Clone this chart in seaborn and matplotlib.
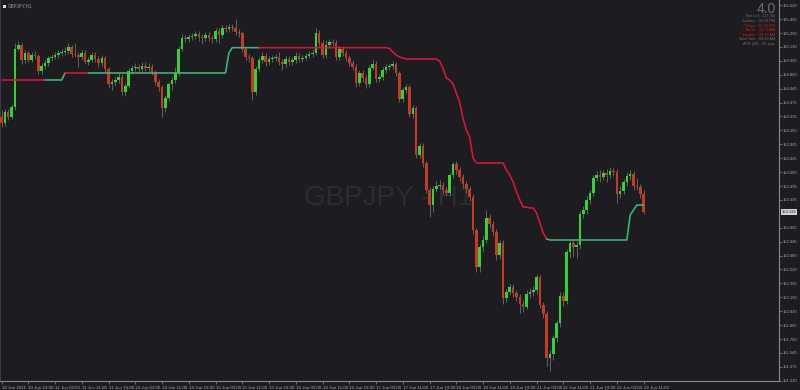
import matplotlib
matplotlib.use("Agg")
import matplotlib.pyplot as plt
from matplotlib.patches import Rectangle
import numpy as np
import pandas as pd
import seaborn as sns

# ---------------- data (GBPJPY H1) ----------------
first_open = 154.307

closes = [
    154.236, 154.365, 154.307, 154.424, 155.104, 155.151, 154.975, 155.057, 154.975, 155.034,
    155.022, 154.846, 154.905, 154.940, 154.999, 155.010, 155.034, 155.057, 155.069, 155.081,
    155.128, 155.046, 155.034, 155.010, 155.057, 154.952, 154.975, 155.034, 154.987, 154.940,
    154.999, 154.870, 154.694, 154.717, 154.741, 154.776, 154.600, 154.670, 154.846, 154.881,
    154.893, 154.870, 154.905, 154.881, 154.893, 154.834, 154.717, 154.659, 154.412, 154.530,
    154.694, 154.741, 154.823, 155.104, 155.233, 155.222, 155.245, 155.257, 155.280, 155.245,
    155.233, 155.268, 155.233, 155.222, 155.315, 155.268, 155.351, 155.339, 155.362, 155.351,
    155.304, 155.292, 155.104, 155.010, 154.999, 154.600, 154.870, 154.975, 155.022, 154.952,
    154.987, 154.999, 155.010, 154.952, 154.928, 154.987, 154.952, 154.975, 155.022, 154.987,
    154.999, 155.022, 155.046, 155.057, 155.292, 155.175, 155.034, 155.151, 155.186, 155.175,
    155.010, 155.104, 155.057, 154.999, 154.940, 154.893, 154.705, 154.823, 154.764, 154.694,
    154.881, 154.928, 154.752, 154.776, 154.858, 154.893, 154.905, 154.928, 154.823, 154.518,
    154.623, 154.659, 154.342, 154.412, 153.861, 153.966, 153.767, 153.450, 153.274, 153.462,
    153.497, 153.509, 153.450, 153.415, 153.626, 153.755, 153.685, 153.603, 153.521, 153.462,
    153.368, 152.981, 152.547, 152.782, 152.864, 153.122, 153.051, 152.958, 152.688, 152.829,
    152.183, 152.254, 152.312, 152.242, 152.195, 152.113, 152.078, 152.230, 152.254, 152.277,
    152.430, 152.101, 151.996, 151.480, 151.527, 151.714, 151.890, 152.207, 152.148, 152.723,
    152.829, 152.782, 152.805, 153.169, 153.216, 153.333, 153.415, 153.591, 153.626, 153.603,
    153.650, 153.626, 153.673, 153.661, 153.403, 153.439, 153.544, 153.615, 153.638, 153.497,
    153.486, 153.403, 153.192,
]

highs = [
    154.39, 154.40, 154.40, 154.46, 155.17, 155.20, 155.17, 155.09, 155.08, 155.07,
    155.08, 155.05, 154.94, 154.98, 155.02, 155.05, 155.07, 155.09, 155.10, 155.13,
    155.17, 155.15, 155.17, 155.07, 155.09, 155.09, 155.01, 155.07, 155.07, 155.02,
    155.03, 155.02, 154.89, 154.75, 154.78, 154.82, 154.81, 154.70, 154.88, 154.92,
    154.94, 154.93, 154.95, 154.95, 154.94, 154.93, 154.86, 154.75, 154.68, 154.56,
    154.72, 154.78, 154.89, 155.14, 155.28, 155.27, 155.28, 155.29, 155.31, 155.31,
    155.28, 155.30, 155.30, 155.27, 155.35, 155.35, 155.39, 155.39, 155.40, 155.40,
    155.46, 155.34, 155.32, 155.13, 155.05, 155.02, 154.90, 155.01, 155.07, 155.06,
    155.02, 155.03, 155.05, 155.07, 154.99, 155.02, 155.02, 155.01, 155.07, 155.06,
    155.03, 155.06, 155.08, 155.10, 155.35, 155.33, 155.21, 155.21, 155.22, 155.22,
    155.21, 155.14, 155.14, 155.09, 155.03, 154.97, 154.93, 154.86, 154.86, 154.80,
    154.92, 154.97, 154.96, 154.81, 154.89, 154.93, 154.94, 154.96, 154.95, 154.85,
    154.66, 154.69, 154.68, 154.45, 154.44, 154.00, 154.00, 153.79, 153.49, 153.50,
    153.56, 153.57, 153.54, 153.49, 153.65, 153.78, 153.79, 153.72, 153.64, 153.56,
    153.50, 153.40, 153.00, 152.82, 152.91, 153.22, 153.17, 153.09, 152.99, 152.86,
    152.86, 152.29, 152.35, 152.35, 152.28, 152.23, 152.16, 152.28, 152.30, 152.32,
    152.46, 152.45, 152.14, 152.03, 151.57, 151.75, 151.92, 152.25, 152.25, 152.76,
    152.86, 152.88, 152.85, 153.20, 153.26, 153.38, 153.45, 153.63, 153.67, 153.68,
    153.68, 153.70, 153.72, 153.71, 153.70, 153.50, 153.58, 153.66, 153.68, 153.67,
    153.59, 153.52, 153.45,
]

lows = [
    154.19, 154.20, 154.27, 154.28, 154.39, 155.08, 154.93, 154.94, 154.95, 154.95,
    154.99, 154.81, 154.81, 154.87, 154.90, 154.96, 154.99, 155.00, 155.02, 155.03,
    155.05, 155.01, 155.01, 154.89, 154.98, 154.93, 154.92, 154.95, 154.95, 154.89,
    154.90, 154.83, 154.65, 154.62, 154.67, 154.71, 154.56, 154.55, 154.65, 154.81,
    154.85, 154.83, 154.83, 154.85, 154.85, 154.80, 154.68, 154.61, 154.31, 154.37,
    154.49, 154.62, 154.70, 154.79, 155.08, 155.19, 155.19, 155.21, 155.22, 155.20,
    155.16, 155.20, 155.20, 155.17, 155.19, 155.17, 155.23, 155.30, 155.30, 155.32,
    155.27, 155.25, 155.07, 154.98, 154.95, 154.51, 154.56, 154.83, 154.94, 154.90,
    154.92, 154.95, 154.96, 154.92, 154.86, 154.89, 154.92, 154.92, 154.94, 154.95,
    154.95, 154.98, 155.00, 155.01, 155.03, 155.14, 155.00, 155.00, 155.12, 155.14,
    154.98, 154.98, 155.02, 154.96, 154.90, 154.86, 154.66, 154.67, 154.72, 154.65,
    154.66, 154.86, 154.72, 154.72, 154.74, 154.82, 154.86, 154.87, 154.79, 154.48,
    154.48, 154.59, 154.31, 154.29, 153.83, 153.83, 153.72, 153.42, 153.13, 153.19,
    153.43, 153.46, 153.40, 153.38, 153.38, 153.59, 153.64, 153.56, 153.47, 153.42,
    153.32, 152.93, 152.49, 152.49, 152.72, 152.83, 153.00, 152.91, 152.63, 152.64,
    152.11, 152.14, 152.22, 152.20, 152.15, 152.01, 152.02, 152.05, 152.18, 152.21,
    152.23, 152.07, 151.95, 151.39, 151.33, 151.46, 151.67, 151.84, 152.09, 152.11,
    152.65, 152.66, 152.65, 152.76, 153.12, 153.17, 153.29, 153.38, 153.56, 153.54,
    153.57, 153.54, 153.59, 153.61, 153.30, 153.36, 153.40, 153.50, 153.57, 153.45,
    153.45, 153.36, 153.17,
]

stop_line = [
    154.741, 154.741, 154.741, 154.741, 154.741, 154.741, 154.741, 154.741, 154.741, 154.741,
    154.741, 154.741, 154.741, 154.741, 154.741, 154.741, 154.741, 154.741, 154.741, 154.823,
    154.823, 154.823, 154.823, 154.823, 154.823, 154.823, 154.823, 154.823, 154.823, 154.823,
    154.823, 154.823, 154.823, 154.823, 154.823, 154.823, 154.823, 154.823, 154.823, 154.823,
    154.823, 154.823, 154.823, 154.823, 154.823, 154.823, 154.823, 154.823, 154.823, 154.823,
    154.823, 154.823, 154.823, 154.823, 154.823, 154.823, 154.823, 154.823, 154.823, 154.823,
    154.823, 154.823, 154.823, 154.823, 154.823, 154.823, 154.823, 154.823, 155.057, 155.120,
    155.120, 155.120, 155.120, 155.120, 155.120, 155.120, 155.120, 155.120, 155.120, 155.120,
    155.120, 155.120, 155.120, 155.120, 155.120, 155.120, 155.120, 155.120, 155.120, 155.120,
    155.120, 155.120, 155.120, 155.120, 155.120, 155.120, 155.120, 155.120, 155.120, 155.120,
    155.120, 155.120, 155.120, 155.120, 155.120, 155.120, 155.120, 155.120, 155.120, 155.120,
    155.120, 155.120, 155.120, 155.120, 155.120, 155.120, 155.110, 155.069, 155.034, 155.010,
    154.999, 154.987, 154.987, 154.987, 154.987, 154.987, 154.987, 154.987, 154.987, 154.987,
    154.987, 154.963, 154.881, 154.764, 154.741, 154.694, 154.588, 154.482, 154.295, 154.154,
    154.072, 153.826, 153.767, 153.767, 153.767, 153.767, 153.767, 153.767, 153.767, 153.767,
    153.767, 153.685, 153.626, 153.544, 153.427, 153.333, 153.251, 153.251, 153.239, 153.239,
    153.181, 153.063, 152.946, 152.876, 152.864, 152.864, 152.864, 152.864, 152.864, 152.864,
    152.864, 152.864, 152.864, 152.864, 152.864, 152.864, 152.864, 152.864, 152.864, 152.864,
    152.864, 152.864, 152.864, 152.864, 152.864, 152.864, 152.864, 152.864, 153.157, 153.216,
    153.274, 153.274, 153.274,
]

# trend state of the stop line: (direction, number of bars)
trend_runs = [("down", 14), ("up", 6), ("down", 7), ("up", 51), ("down", 86), ("up", 29)]

x_tick_labels = [
    "10 Jun 2021", "10 Jun 19:00", "11 Jun 03:00", "11 Jun 11:00", "11 Jun 19:00",
    "14 Jun 03:00", "14 Jun 11:00", "14 Jun 19:00", "15 Jun 03:00", "15 Jun 11:00",
    "15 Jun 19:00", "16 Jun 03:00", "16 Jun 11:00", "16 Jun 19:00", "17 Jun 03:00",
    "17 Jun 11:00", "17 Jun 19:00", "18 Jun 03:00", "18 Jun 11:00", "18 Jun 19:00",
    "21 Jun 03:00", "21 Jun 11:00", "21 Jun 19:00", "22 Jun 03:00", "22 Jun 11:00",
]
bars_per_label = 8

y_tick_labels = [
    "155.620", "155.455", "155.290", "155.130", "154.965", "154.800", "154.640",
    "154.475", "154.315", "154.150", "153.985", "153.825", "153.660", "153.495",
    "153.335", "153.005", "152.845", "152.680", "152.520", "152.355", "152.190",
    "152.030", "151.865", "151.700", "151.540", "151.375", "151.210",
]

current_price_label = "153.192"
info_lines = [
    ("Bar Left : (27:30)", "#6f6f6f"),
    ("Sydney : 06:33 PM", "#6f6f6f"),
    ("* Tokyo : 05:33 PM", "#d01a1a"),
    ("* Berlin : 10:33 AM", "#d01a1a"),
    ("* London : 09:33 AM", "#d01a1a"),
    ("New York : 04:33 AM", "#6f6f6f"),
    ("ATR (20) : 41 pips", "#6f6f6f"),
]

# ---------------- styling ----------------
BG = "#1c1c21"
UP = "#2fd62f"
DOWN = "#c93a22"
WICK = "#6e6e73"
LINE_UP = "#3cb878"
LINE_DOWN = "#dc1440"
AXC = "#8a8a8e"
TXT = "#a8a8ac"

sns.set_theme(style="dark", rc={"axes.facecolor": BG, "figure.facecolor": BG,
                                "savefig.facecolor": BG})
plt.rcParams["font.family"] = ["Liberation Sans", "DejaVu Sans"]

W, H = 800, 390
fig = plt.figure(figsize=(W / 100, H / 100), dpi=100)
fig.patch.set_facecolor(BG)
ax = fig.add_axes([0.0, 9 / H, 779 / W, 381 / H])
ax.set_facecolor(BG)

n = len(closes)
opens = [first_open] + closes[:-1]
df = pd.DataFrame({"bar": np.arange(n), "open": opens, "high": highs,
                   "low": lows, "close": closes, "stop": stop_line})
df["up"] = df["close"] >= df["open"]
df["bottom"] = df[["open", "close"]].min(axis=1)
df["height"] = (df["close"] - df["open"]).abs().clip(lower=0.008)

# watermark
ax.text(0.4995, 0.48, "GBPJPY - H1", transform=ax.transAxes, ha="center",
        va="center", fontsize=20, color="#2c2c32", zorder=0)

# wicks and bodies
ax.vlines(df["bar"], df["low"], df["high"], color=WICK, lw=0.6, zorder=2)
ax.bar(df["bar"], df["height"], bottom=df["bottom"], width=0.78,
       color=np.where(df["up"], UP, DOWN), linewidth=0, zorder=3)

# stop line, coloured by trend
start = 0
for direction, count in trend_runs:
    lo = max(start - 1, 0)
    seg = df.iloc[lo:start + count]
    sns.lineplot(x=seg["bar"], y=seg["stop"], ax=ax, sort=False, estimator=None,
                 color=LINE_UP if direction == "up" else LINE_DOWN, lw=1.15,
                 zorder=4, legend=False)
    start += count

# axes ranges
ax.set_xlim(-0.45, 232.5)
ax.set_ylim(151.21, 155.679)
ax.set_xlabel("")
ax.set_ylabel("")

# x ticks
xt = np.arange(len(x_tick_labels)) * bars_per_label
ax.set_xticks(xt)
ax.set_xticklabels(x_tick_labels, ha="left", fontsize=3.2, color=TXT)
ax.tick_params(axis="x", direction="out", length=2.5, width=0.5, color=AXC,
               pad=1.0, bottom=True)

# y ticks on right
ax.yaxis.tick_right()
ax.set_yticks([float(v) for v in y_tick_labels])
ax.set_yticklabels(y_tick_labels, fontsize=3.0, color=TXT)
ax.tick_params(axis="y", direction="out", length=2.0, width=0.5, color=AXC,
               pad=0.8, right=True, left=False)

ax.grid(False)
ax.spines["top"].set_visible(False)
for side in ["right", "bottom", "left"]:
    ax.spines[side].set_visible(True)
    ax.spines[side].set_color(AXC)
    ax.spines[side].set_linewidth(0.8)
ax.spines["left"].set_color("#3a3a40")

# current price box
ax.text(1.0 + 2.5 / 779, closes[-1], current_price_label, transform=ax.get_yaxis_transform(),
        ha="left", va="center", fontsize=3.0, color="#1c1c21", zorder=6,
        bbox=dict(boxstyle="square,pad=0.2", fc="#d2d2d2", ec="none"),
        clip_on=False)

# top-left symbol label
fig.patches.append(Rectangle((3 / W, 1 - 7.5 / H), 3 / W, 3 / H, transform=fig.transFigure,
                             facecolor="#e0e0e0", edgecolor="none"))
fig.text(8 / W, 1 - 6 / H, "GBPJPY,H1", fontsize=3.3, color="#9a9a9e",
         ha="left", va="center")

# top-right info panel
fig.text(776 / W, 1 - 2 / H, "4.0", fontsize=10, color="#6c6c70",
         ha="right", va="top")
for k, (txt, col) in enumerate(info_lines):
    fig.text(775 / W, 1 - (16.5 + 4.6 * k) / H, txt, fontsize=2.8, color=col,
             ha="right", va="center")

fig.savefig("out.png", dpi=100, facecolor=BG)
